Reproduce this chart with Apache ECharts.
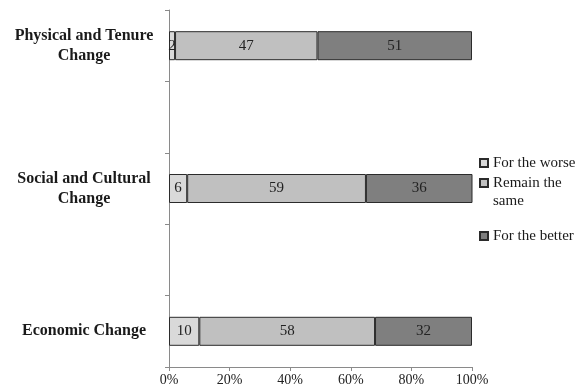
<!DOCTYPE html>
<html>
<head>
<meta charset="utf-8">
<script src="https://cdn.jsdelivr.net/npm/echarts@6/dist/echarts.min.js"></script>
<style>
  html, body { margin: 0; padding: 0; background: #fff; }
  #chart { width: 580px; height: 388px; }
</style>
</head>
<body>
<div id="chart"></div>
<script>
// Categories bottom to top; blank slots keep the gaps between the bars.
const categories = ['Economic Change', '', 'Social and Cultural\nChange', '', 'Physical and Tenure\nChange'];
const forTheWorse = [10, '-', 6, '-', 2];
const remainTheSame = [58, '-', 59, '-', 47];
const forTheBetter = [32, '-', 36, '-', 51];
const xTicks = [0, 20, 40, 60, 80, 100];

const serif = '"Liberation Serif", "DejaVu Serif", serif';
const border = { borderColor: '#2b2b2b', borderWidth: 1 };

function barSeries(name, data, color) {
  return {
    name: name,
    type: 'bar',
    stack: 'total',
    data: data,
    barWidth: 29,
    itemStyle: Object.assign({ color: color }, border),
    label: {
      show: true,
      position: 'inside',
      fontFamily: serif,
      fontSize: 15,
      color: '#222'
    }
  };
}

// Square marker sitting at the top of a taller box, so a two-line legend
// entry keeps its marker beside the first line.
const topSquare = 'path://M0,0L8,0L8,8L0,8Z M0,26L0.001,26';

const legendBase = {
  orient: 'vertical',
  icon: 'rect',
  itemWidth: 8,
  itemHeight: 8,
  itemGap: 4,
  padding: 0,
  textStyle: { fontFamily: serif, fontSize: 15, color: '#1a1a1a', lineHeight: 18 }
};

const chart = echarts.init(document.getElementById('chart'));
chart.setOption({
  animation: false,
  grid: { left: 169, right: 108, top: 10, bottom: 21, containLabel: false },
  xAxis: {
    type: 'value',
    min: xTicks[0],
    max: xTicks[xTicks.length - 1],
    interval: 20,
    axisLine: { show: true, lineStyle: { color: '#8a8a8a' } },
    axisTick: { show: true, length: 4, lineStyle: { color: '#8a8a8a' } },
    splitLine: { show: false },
    axisLabel: {
      formatter: '{value}%',
      fontFamily: serif,
      fontSize: 14,
      color: '#222',
      margin: 6
    }
  },
  yAxis: {
    type: 'category',
    data: categories,
    axisLine: { show: true, lineStyle: { color: '#8a8a8a' } },
    axisTick: { show: true, length: 4, interval: 0, lineStyle: { color: '#8a8a8a' } },
    axisLabel: {
      interval: 0,
      fontFamily: serif,
      fontWeight: 'bold',
      fontSize: 16,
      color: '#1a1a1a',
      align: 'center',
      margin: 85,
      lineHeight: 20
    }
  },
  legend: [
    Object.assign({}, legendBase, { data: ['For the worse'], left: 479, top: 154 }),
    Object.assign({}, legendBase, {
      data: ['Remain the\nsame'], left: 479, top: 174,
      icon: topSquare, itemHeight: 26
    }),
    Object.assign({}, legendBase, { data: ['For the better'], left: 479, top: 227 })
  ],
  series: [
    barSeries('For the worse', forTheWorse, '#d9d9d9'),
    barSeries('Remain the\nsame', remainTheSame, '#c0c0c0'),
    barSeries('For the better', forTheBetter, '#7f7f7f')
  ]
});
</script>
</body>
</html>
